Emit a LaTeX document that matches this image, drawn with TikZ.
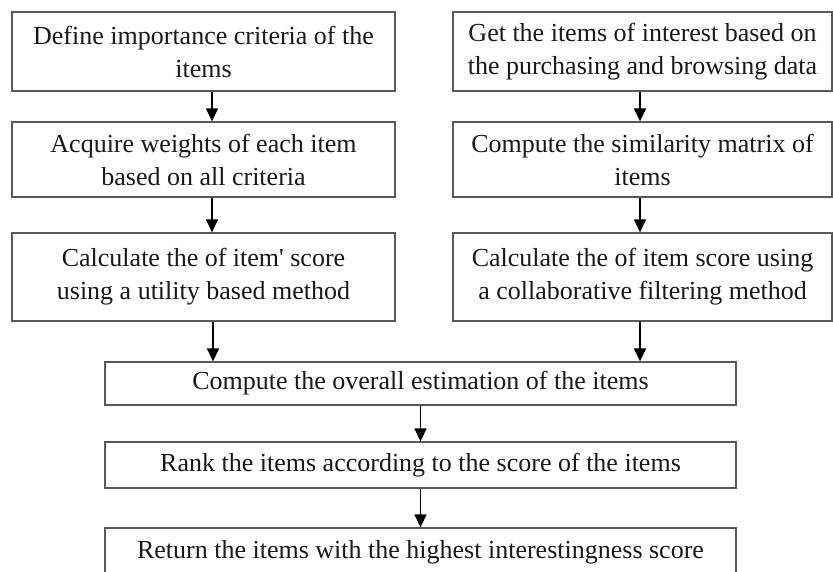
\documentclass[tikz,border=0pt]{standalone}
\usepackage{fontspec}
\setmainfont{Liberation Serif}
\newfontfamily\plainserif{Liberation Serif}
\usetikzlibrary{arrows.meta}
\begin{document}
\begin{tikzpicture}[x=1pt,y=-1pt,
  stepbox/.style={draw=black!65,line width=1.3pt,align=center,inner sep=0pt,
    font=\fontsize{26}{33}\selectfont,text=black!90},
  arr/.style={line width=1.4pt,-{Triangle[length=13pt,width=12pt]}}]
\useasboundingbox (0,0) rectangle (833,572);
\fill[white] (0,0) rectangle (833,572);
\begin{scope}
\clip (0,0) rectangle (833,572);
\node[stepbox,minimum width=383pt,minimum height=79pt] (l1) at (203.5,51.5) {Define importance criteria of the\\items};
\node[stepbox,minimum width=383pt,minimum height=75pt] (l2) at (203.5,159.5) {Acquire weights of each item\\based on all criteria};
\node[stepbox,minimum width=383pt,minimum height=88pt] (l3) at (203.5,277) {Calculate the of item{\plainserif'} score\\using a utility based method};
\node[stepbox,minimum width=379pt,minimum height=79pt] (r1) at (642.5,51.5) {Get the items of interest based on\\the purchasing and browsing data};
\node[stepbox,minimum width=379pt,minimum height=75pt] (r2) at (642.5,159.5) {Compute the similarity matrix of\\items};
\node[stepbox,minimum width=379pt,minimum height=88pt] (r3) at (642.5,277) {Calculate the of item score using\\a collaborative filtering method};
\node[stepbox,minimum width=631pt,minimum height=43pt] (c1) at (420.5,383.5) {Compute the overall estimation of the items};
\node[stepbox,minimum width=631pt,minimum height=46pt] (c2) at (420.5,465) {Rank the items according to the score of the items};
\node[stepbox,minimum width=631pt,minimum height=48pt] (c3) at (420.5,552) {Return the items with the highest interestingness score};
\end{scope}
\draw[arr] ([xshift=8.5pt]l1.south) -- ([xshift=8.5pt]l2.north);
\draw[arr] ([xshift=8.5pt]l2.south) -- ([xshift=8.5pt]l3.north);
\draw[arr] ([xshift=-2.5pt]r1.south) -- ([xshift=-2.5pt]r2.north);
\draw[arr] ([xshift=-2.5pt]r2.south) -- ([xshift=-2.5pt]r3.north);
\draw[arr] ([xshift=9.5pt]l3.south) -- (c1.north -| {213,0});
\draw[arr] ([xshift=-2.5pt]r3.south) -- (c1.north -| {640,0});
\draw[arr] (c1.south) -- (c2.north);
\draw[arr] (c2.south) -- (c3.north);
\end{tikzpicture}
\end{document}
